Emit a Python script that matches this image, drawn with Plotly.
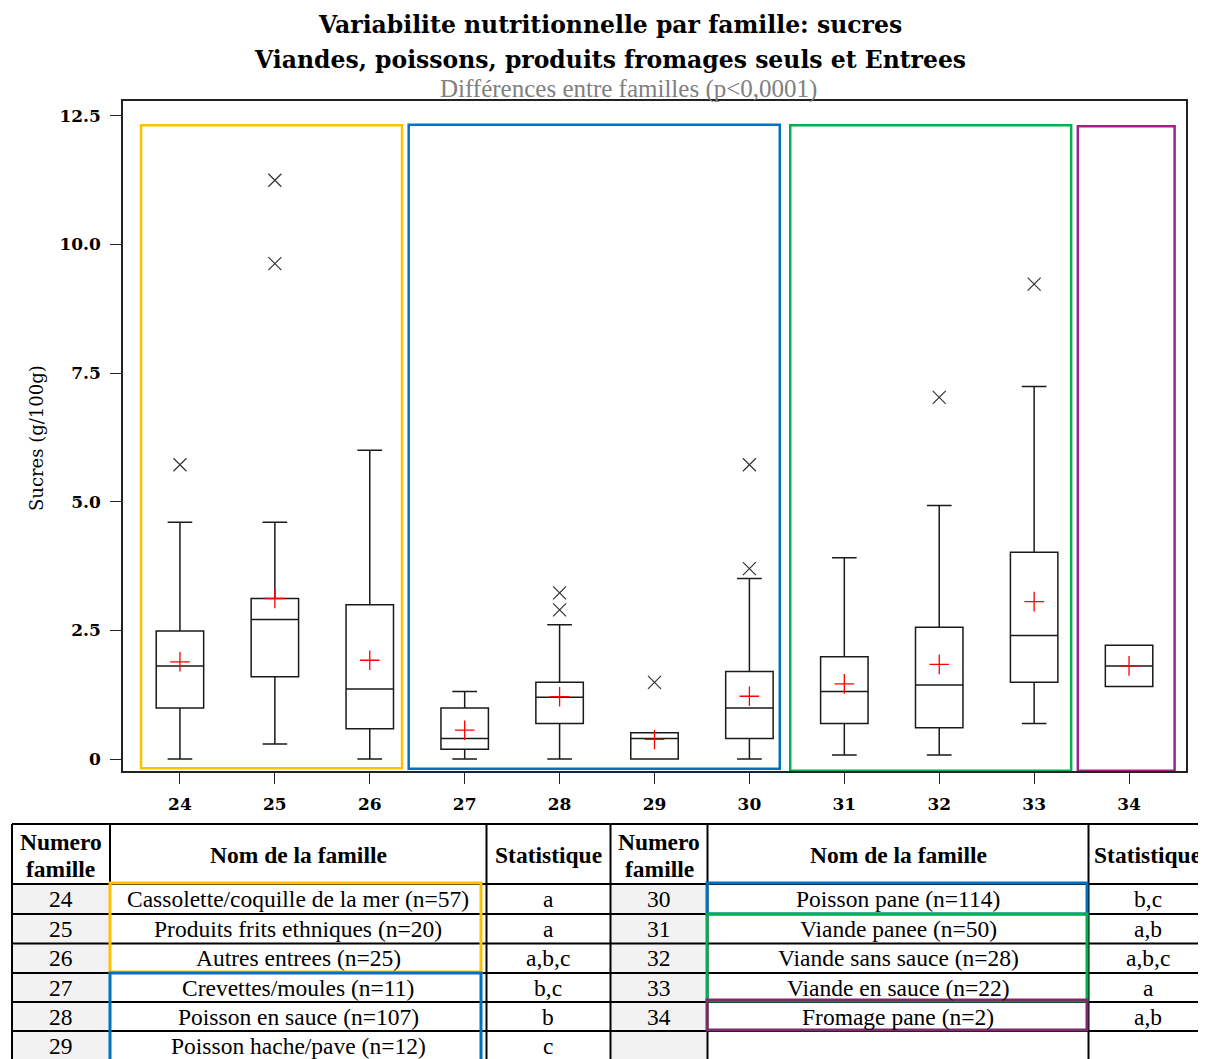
import plotly.graph_objects as go

# the page body has an 8px margin, so the figure is drawn 8px smaller
OFF = 8
W, H = 1206 - OFF, 1059 - OFF

# box statistics (Sucres g/100g)
families = [24, 25, 26, 27, 28, 29, 30, 31, 32, 33, 34]
q1 = [0.99, 1.60, 0.59, 0.19, 0.69, 0.00, 0.40, 0.69, 0.61, 1.49, 1.41]
median = [1.81, 2.71, 1.36, 0.40, 1.20, 0.40, 0.99, 1.31, 1.44, 2.40, 1.81]
q3 = [2.49, 3.12, 3.00, 0.99, 1.49, 0.51, 1.70, 1.99, 2.56, 4.02, 2.21]
lower = [0.00, 0.29, 0.00, 0.00, 0.00, 0.00, 0.00, 0.08, 0.08, 0.69, 1.41]
upper = [4.60, 4.60, 6.00, 1.31, 2.61, 0.51, 3.51, 3.91, 4.93, 7.24, 2.21]
means = [1.89, 3.12, 1.92, 0.56, 1.21, 0.38, 1.22, 1.46, 1.84, 3.06, 1.81]

outlier_x = [24, 25, 25, 28, 28, 29, 30, 30, 32, 33]
outlier_y = [5.72, 11.25, 9.63, 3.23, 2.90, 1.49, 3.70, 5.72, 7.03, 9.23]

y_tickvals = [0, 2.5, 5, 7.5, 10, 12.5]
y_ticktext = ["0", "2.5", "5.0", "7.5", "10.0", "12.5"]

# table content
left_num = ["24", "25", "26", "27", "28", "29"]
left_nom = ["Cassolette/coquille de la mer (n=57)", "Produits frits ethniques (n=20)",
            "Autres entrees (n=25)", "Crevettes/moules (n=11)",
            "Poisson en sauce (n=107)", "Poisson hache/pave (n=12)"]
left_stat = ["a", "a", "a,b,c", "b,c", "b", "c"]
right_num = ["30", "31", "32", "33", "34"]
right_nom = ["Poisson pane (n=114)", "Viande panee (n=50)", "Viande sans sauce (n=28)",
             "Viande en sauce (n=22)", "Fromage pane (n=2)"]
right_stat = ["b,c", "a,b", "a,b,c", "a", "a,b"]

YELLOW = "#FFC000"
BLUE = "#0070C0"
GREEN = "#00B050"
PURPLE = "#A0228C"
PURPLE_T = "#7B2C66"


def px(x):
    return (x - OFF) / W


def py(y):
    return 1 - (y - OFF) / H


fig = go.Figure()

fig.add_trace(go.Box(
    x=families, q1=q1, median=median, q3=q3,
    lowerfence=lower, upperfence=upper,
    width=0.5, whiskerwidth=0.52,
    fillcolor="white", line=dict(color="#1a1a1a", width=1.5),
    boxpoints=False, showlegend=False,
))

fig.add_trace(go.Scatter(
    x=outlier_x, y=outlier_y, mode="markers", showlegend=False,
    marker=dict(symbol="x-thin", size=13, line=dict(color="#333333", width=1.2)),
))

fig.add_trace(go.Scatter(
    x=families, y=means, mode="markers", showlegend=False,
    marker=dict(symbol="cross-thin", size=14, line=dict(color="red", width=1.3)),
))

shapes = []

# coloured group frames on the chart
for x0, x1, y0, y1, col in [
    (23.59, 26.34, -0.18, 12.32, YELLOW),
    (26.41, 30.32, -0.19, 12.33, BLUE),
    (30.43, 33.39, -0.23, 12.32, GREEN),
    (33.46, 34.48, -0.23, 12.30, PURPLE),
]:
    shapes.append(dict(type="rect", xref="x", yref="y", x0=x0, x1=x1, y0=y0, y1=y1,
                       line=dict(color=col, width=2.5)))

# table
row_lines = [824, 884, 914, 943.5, 973, 1002, 1031, 1061]
row_mid = [(row_lines[i] + row_lines[i + 1]) / 2 for i in range(1, 7)]

for xa, xb in [(12, 110), (610.5, 707.5)]:
    shapes.append(dict(type="rect", xref="paper", yref="paper",
                       x0=px(xa), x1=px(xb), y0=py(884), y1=py(1061),
                       fillcolor="#F2F2F2", line=dict(width=0)))

for i, yl in enumerate(row_lines):
    shapes.append(dict(type="line", xref="paper", yref="paper",
                       x0=px(12), x1=px(610.5), y0=py(yl), y1=py(yl),
                       line=dict(color="black", width=2)))
    if i < 7:
        shapes.append(dict(type="line", xref="paper", yref="paper",
                           x0=px(610.5), x1=px(1210), y0=py(yl), y1=py(yl),
                           line=dict(color="black", width=2)))

for xl in [12, 110, 486.5, 610.5, 707.5, 1088.5]:
    shapes.append(dict(type="line", xref="paper", yref="paper",
                       x0=px(xl), x1=px(xl), y0=py(824), y1=py(1061),
                       line=dict(color="black", width=2)))

for x0, x1, y0, y1, col in [
    (110, 481, 883, 972, YELLOW),
    (110, 481, 973, 1062, BLUE),
    (707, 1087, 883, 914, BLUE),
    (707, 1087, 914, 1001, GREEN),
    (707, 1087, 1000, 1030, PURPLE_T),
]:
    shapes.append(dict(type="rect", xref="paper", yref="paper",
                       x0=px(x0), x1=px(x1), y0=py(y0), y1=py(y1),
                       line=dict(color=col, width=3)))

annotations = []
tfont = dict(family="Liberation Serif", size=23.5, color="black")
hfont = dict(family="Liberation Serif", size=23.5, color="black")


def cell(x, y, text, font):
    annotations.append(dict(x=px(x), y=py(y), xref="paper", yref="paper", text=text,
                            showarrow=False, font=font, xanchor="center", yanchor="middle"))


for cx in (61, 659):
    cell(cx, 842, "<b>Numero</b>", hfont)
    cell(cx, 869, "<b>famille</b>", hfont)
for cx in (298, 898):
    cell(cx, 855, "<b>Nom de la famille</b>", hfont)
cell(548, 855, "<b>Statistique</b>", hfont)
cell(1147, 855, "<b>Statistique</b>", hfont)

for i in range(len(left_num)):
    cell(61, row_mid[i], left_num[i], tfont)
    cell(298, row_mid[i], left_nom[i], tfont)
    cell(548, row_mid[i], left_stat[i], tfont)
for i in range(len(right_num)):
    cell(659, row_mid[i], right_num[i], tfont)
    cell(898, row_mid[i], right_nom[i], tfont)
    cell(1148, row_mid[i], right_stat[i], tfont)

# titles
title_font = dict(family="DejaVu Serif", size=23.5, color="black")
annotations.append(dict(x=px(610), y=py(25), xref="paper", yref="paper", showarrow=False,
                        text="<b>Variabilite nutritionnelle par famille: sucres</b>",
                        font=title_font, xanchor="center", yanchor="middle"))
annotations.append(dict(x=px(610), y=py(60), xref="paper", yref="paper", showarrow=False,
                        text="<b>Viandes, poissons, produits fromages seuls et Entrees</b>",
                        font=title_font, xanchor="center", yanchor="middle"))
annotations.append(dict(x=px(628), y=py(89), xref="paper", yref="paper", showarrow=False,
                        text="Différences entre familles (p<0,0001)",
                        font=dict(family="Liberation Serif", size=25, color="#808080"),
                        xanchor="center", yanchor="middle"))
annotations.append(dict(x=px(36), y=py(438), xref="paper", yref="paper", showarrow=False,
                        text="Sucres (g/100g)", textangle=-90,
                        font=dict(family="DejaVu Serif", size=18, color="black"),
                        xanchor="center", yanchor="middle"))

tick_font = dict(family="DejaVu Serif", size=17, color="black", weight="bold")

fig.update_layout(
    width=W, height=H, autosize=False,
    margin=dict(l=0, r=0, t=0, b=0),
    paper_bgcolor="white", plot_bgcolor="white",
    shapes=shapes, annotations=annotations,
    xaxis=dict(domain=[px(123), px(1186)], range=[23.4, 34.6],
               tickvals=families, ticktext=[str(f) for f in families],
               ticks="outside", ticklen=11, tickwidth=1.2, tickcolor="#222222",
               showline=True, mirror=True, linecolor="#222222", linewidth=1.5,
               showgrid=False, zeroline=False, tickfont=tick_font, ticklabelstandoff=6),
    yaxis=dict(domain=[py(771), py(101)], range=[-0.233, 12.79],
               tickvals=y_tickvals, ticktext=y_ticktext,
               ticks="outside", ticklen=11, tickwidth=1.2, tickcolor="#222222",
               showline=True, mirror=True, linecolor="#222222", linewidth=1.5,
               showgrid=False, zeroline=False, tickfont=tick_font, ticklabelstandoff=6),
)

fig.write_html("out.html")
